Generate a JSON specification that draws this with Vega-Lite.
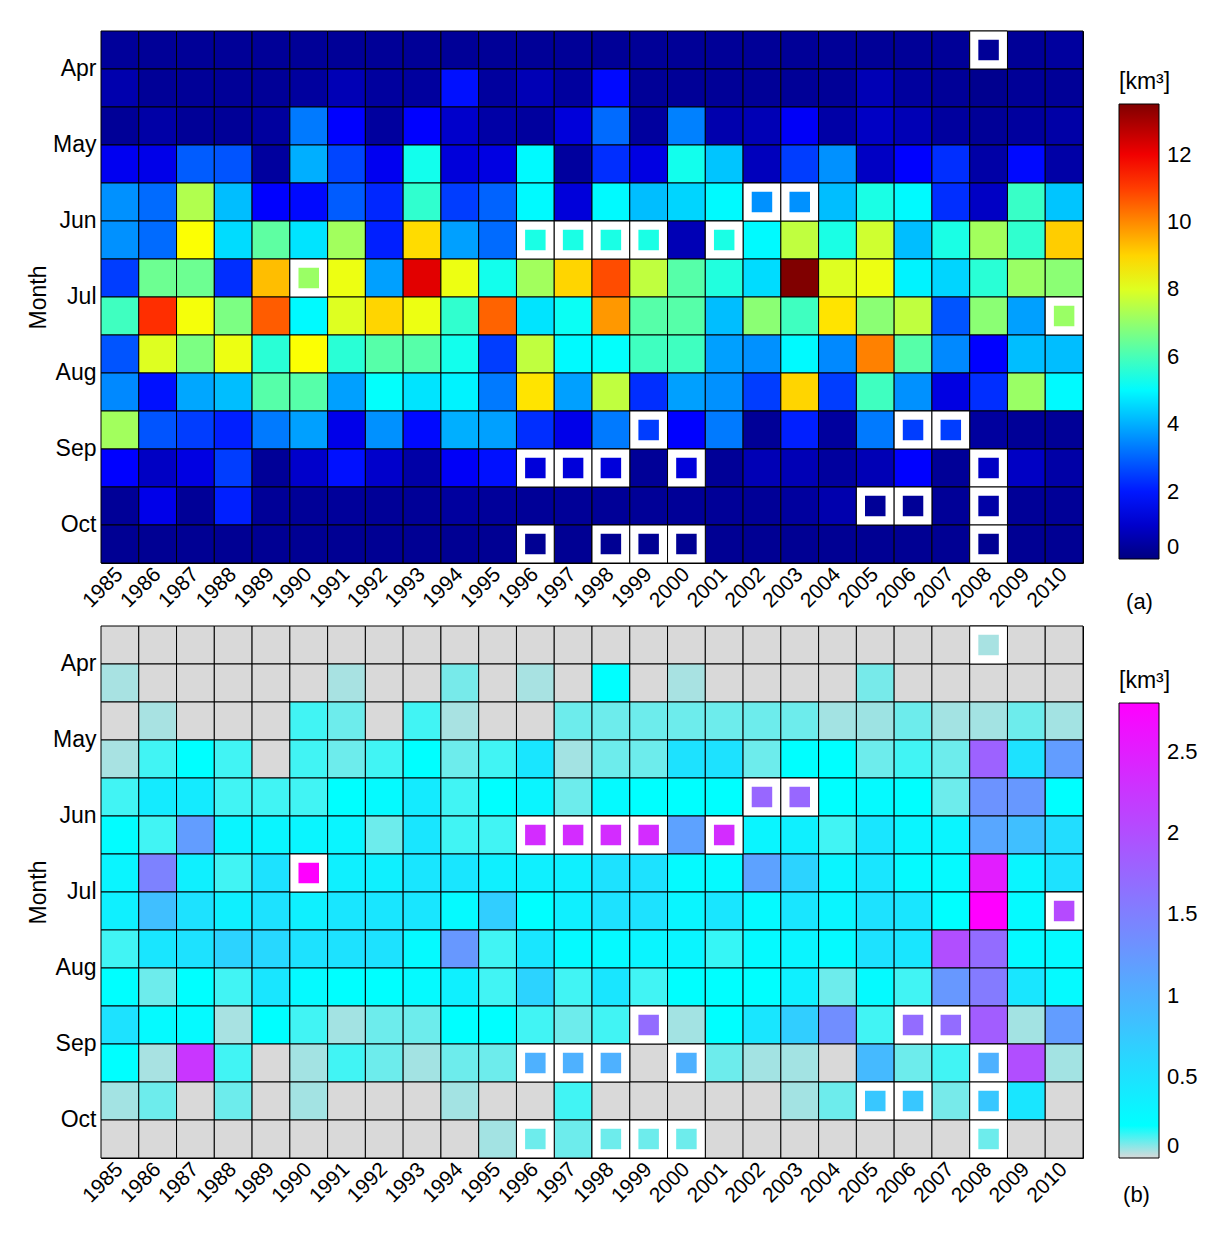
{
"$schema":"https://vega.github.io/schema/vega-lite/v6.json",
"padding":{"left":27,"top":30,"right":0,"bottom":0},
"background":"white",
"config":{
 "font":"Liberation Sans",
 "view":{"stroke":"black"},
 "axis":{"labelFont":"Liberation Sans","labelFontSize":23,"labelColor":"black","titleFont":"Liberation Sans","titleFontSize":23,"titleFontWeight":"normal","titleColor":"black","domain":false,"ticks":false,"grid":false},
 "legend":{"labelFont":"Liberation Sans","labelFontSize":22,"labelColor":"black","titleFont":"Liberation Sans","titleFontSize":23,"titleFontWeight":"normal","titleColor":"black","gradientStrokeColor":"black","gradientStrokeWidth":1}
},
"spacing":12,
"resolve":{"scale":{"color":"independent"}},
"datasets":{
"a":[
{"yr":1985,"r":"Apr","v":0.35},{"yr":1986,"r":"Apr","v":0.3},{"yr":1987,"r":"Apr","v":0.3},{"yr":1988,"r":"Apr","v":0.3},{"yr":1989,"r":"Apr","v":0.3},{"yr":1990,"r":"Apr","v":0.3},{"yr":1991,"r":"Apr","v":0.3},{"yr":1992,"r":"Apr","v":0.3},{"yr":1993,"r":"Apr","v":0.3},{"yr":1994,"r":"Apr","v":0.3},{"yr":1995,"r":"Apr","v":0.3},{"yr":1996,"r":"Apr","v":0.3},{"yr":1997,"r":"Apr","v":0.3},{"yr":1998,"r":"Apr","v":0.3},{"yr":1999,"r":"Apr","v":0.3},{"yr":2000,"r":"Apr","v":0.3},{"yr":2001,"r":"Apr","v":0.3},{"yr":2002,"r":"Apr","v":0.3},{"yr":2003,"r":"Apr","v":0.3},{"yr":2004,"r":"Apr","v":0.3},{"yr":2005,"r":"Apr","v":0.3},{"yr":2006,"r":"Apr","v":0.3},{"yr":2007,"r":"Apr","v":0.3},{"yr":2008,"r":"Apr","v":0.3,"m":1},{"yr":2009,"r":"Apr","v":0.3},{"yr":2010,"r":"Apr","v":0.4},
{"yr":1985,"r":"Apr-2","v":0.6},{"yr":1986,"r":"Apr-2","v":0.3},{"yr":1987,"r":"Apr-2","v":0.3},{"yr":1988,"r":"Apr-2","v":0.3},{"yr":1989,"r":"Apr-2","v":0.3},{"yr":1990,"r":"Apr-2","v":0.4},{"yr":1991,"r":"Apr-2","v":0.7},{"yr":1992,"r":"Apr-2","v":0.4},{"yr":1993,"r":"Apr-2","v":0.4},{"yr":1994,"r":"Apr-2","v":1.9},{"yr":1995,"r":"Apr-2","v":0.4},{"yr":1996,"r":"Apr-2","v":0.7},{"yr":1997,"r":"Apr-2","v":0.4},{"yr":1998,"r":"Apr-2","v":1.8},{"yr":1999,"r":"Apr-2","v":0.3},{"yr":2000,"r":"Apr-2","v":0.3},{"yr":2001,"r":"Apr-2","v":0.3},{"yr":2002,"r":"Apr-2","v":0.3},{"yr":2003,"r":"Apr-2","v":0.3},{"yr":2004,"r":"Apr-2","v":0.3},{"yr":2005,"r":"Apr-2","v":0.7},{"yr":2006,"r":"Apr-2","v":0.4},{"yr":2007,"r":"Apr-2","v":0.3},{"yr":2008,"r":"Apr-2","v":0.2},{"yr":2009,"r":"Apr-2","v":0.3},{"yr":2010,"r":"Apr-2","v":0.3},
{"yr":1985,"r":"May","v":0.3},{"yr":1986,"r":"May","v":0.5},{"yr":1987,"r":"May","v":0.3},{"yr":1988,"r":"May","v":0.3},{"yr":1989,"r":"May","v":0.4},{"yr":1990,"r":"May","v":3.3},{"yr":1991,"r":"May","v":1.7},{"yr":1992,"r":"May","v":0.4},{"yr":1993,"r":"May","v":1.7},{"yr":1994,"r":"May","v":1.0},{"yr":1995,"r":"May","v":0.5},{"yr":1996,"r":"May","v":0.4},{"yr":1997,"r":"May","v":1.2},{"yr":1998,"r":"May","v":3.1},{"yr":1999,"r":"May","v":0.4},{"yr":2000,"r":"May","v":3.4},{"yr":2001,"r":"May","v":0.6},{"yr":2002,"r":"May","v":0.7},{"yr":2003,"r":"May","v":1.6},{"yr":2004,"r":"May","v":0.5},{"yr":2005,"r":"May","v":0.9},{"yr":2006,"r":"May","v":0.7},{"yr":2007,"r":"May","v":0.4},{"yr":2008,"r":"May","v":0.3},{"yr":2009,"r":"May","v":0.4},{"yr":2010,"r":"May","v":0.5},
{"yr":1985,"r":"May-2","v":1.5},{"yr":1986,"r":"May-2","v":1.4},{"yr":1987,"r":"May-2","v":2.9},{"yr":1988,"r":"May-2","v":2.8},{"yr":1989,"r":"May-2","v":0.4},{"yr":1990,"r":"May-2","v":4.0},{"yr":1991,"r":"May-2","v":2.6},{"yr":1992,"r":"May-2","v":1.5},{"yr":1993,"r":"May-2","v":5.3},{"yr":1994,"r":"May-2","v":1.2},{"yr":1995,"r":"May-2","v":1.3},{"yr":1996,"r":"May-2","v":5.0},{"yr":1997,"r":"May-2","v":0.4},{"yr":1998,"r":"May-2","v":2.3},{"yr":1999,"r":"May-2","v":1.3},{"yr":2000,"r":"May-2","v":5.3},{"yr":2001,"r":"May-2","v":4.3},{"yr":2002,"r":"May-2","v":0.8},{"yr":2003,"r":"May-2","v":2.5},{"yr":2004,"r":"May-2","v":3.6},{"yr":2005,"r":"May-2","v":0.9},{"yr":2006,"r":"May-2","v":1.7},{"yr":2007,"r":"May-2","v":2.3},{"yr":2008,"r":"May-2","v":0.5},{"yr":2009,"r":"May-2","v":1.8},{"yr":2010,"r":"May-2","v":0.5},
{"yr":1985,"r":"Jun","v":3.6},{"yr":1986,"r":"Jun","v":3.1},{"yr":1987,"r":"Jun","v":7.4},{"yr":1988,"r":"Jun","v":4.2},{"yr":1989,"r":"Jun","v":1.7},{"yr":1990,"r":"Jun","v":1.8},{"yr":1991,"r":"Jun","v":2.9},{"yr":1992,"r":"Jun","v":2.2},{"yr":1993,"r":"Jun","v":5.7},{"yr":1994,"r":"Jun","v":2.5},{"yr":1995,"r":"Jun","v":3.0},{"yr":1996,"r":"Jun","v":5.0},{"yr":1997,"r":"Jun","v":1.2},{"yr":1998,"r":"Jun","v":5.0},{"yr":1999,"r":"Jun","v":4.2},{"yr":2000,"r":"Jun","v":4.5},{"yr":2001,"r":"Jun","v":5.0},{"yr":2002,"r":"Jun","v":3.6,"m":1},{"yr":2003,"r":"Jun","v":3.6,"m":1},{"yr":2004,"r":"Jun","v":4.2},{"yr":2005,"r":"Jun","v":5.4},{"yr":2006,"r":"Jun","v":5.0},{"yr":2007,"r":"Jun","v":2.3},{"yr":2008,"r":"Jun","v":0.9},{"yr":2009,"r":"Jun","v":5.8},{"yr":2010,"r":"Jun","v":4.3},
{"yr":1985,"r":"Jun-2","v":3.6},{"yr":1986,"r":"Jun-2","v":3.1},{"yr":1987,"r":"Jun-2","v":8.4},{"yr":1988,"r":"Jun-2","v":4.6},{"yr":1989,"r":"Jun-2","v":6.3},{"yr":1990,"r":"Jun-2","v":4.7},{"yr":1991,"r":"Jun-2","v":7.2},{"yr":1992,"r":"Jun-2","v":2.1},{"yr":1993,"r":"Jun-2","v":8.9},{"yr":1994,"r":"Jun-2","v":3.8},{"yr":1995,"r":"Jun-2","v":3.1},{"yr":1996,"r":"Jun-2","v":5.4,"m":1},{"yr":1997,"r":"Jun-2","v":5.4,"m":1},{"yr":1998,"r":"Jun-2","v":5.4,"m":1},{"yr":1999,"r":"Jun-2","v":5.4,"m":1},{"yr":2000,"r":"Jun-2","v":0.7},{"yr":2001,"r":"Jun-2","v":5.4,"m":1},{"yr":2002,"r":"Jun-2","v":5.0},{"yr":2003,"r":"Jun-2","v":7.6},{"yr":2004,"r":"Jun-2","v":5.4},{"yr":2005,"r":"Jun-2","v":7.8},{"yr":2006,"r":"Jun-2","v":4.2},{"yr":2007,"r":"Jun-2","v":5.4},{"yr":2008,"r":"Jun-2","v":7.2},{"yr":2009,"r":"Jun-2","v":5.7},{"yr":2010,"r":"Jun-2","v":9.1},
{"yr":1985,"r":"Jul","v":2.5},{"yr":1986,"r":"Jul","v":6.5},{"yr":1987,"r":"Jul","v":6.5},{"yr":1988,"r":"Jul","v":2.3},{"yr":1989,"r":"Jul","v":9.3},{"yr":1990,"r":"Jul","v":7.1,"m":1},{"yr":1991,"r":"Jul","v":8.2},{"yr":1992,"r":"Jul","v":3.8},{"yr":1993,"r":"Jul","v":12.2},{"yr":1994,"r":"Jul","v":8.2},{"yr":1995,"r":"Jul","v":5.3},{"yr":1996,"r":"Jul","v":7.2},{"yr":1997,"r":"Jul","v":9.0},{"yr":1998,"r":"Jul","v":10.8},{"yr":1999,"r":"Jul","v":7.6},{"yr":2000,"r":"Jul","v":6.2},{"yr":2001,"r":"Jul","v":5.5},{"yr":2002,"r":"Jul","v":4.6},{"yr":2003,"r":"Jul","v":13.5},{"yr":2004,"r":"Jul","v":8.0},{"yr":2005,"r":"Jul","v":8.2},{"yr":2006,"r":"Jul","v":4.9},{"yr":2007,"r":"Jul","v":4.5},{"yr":2008,"r":"Jul","v":5.6},{"yr":2009,"r":"Jul","v":7.1},{"yr":2010,"r":"Jul","v":6.9},
{"yr":1985,"r":"Jul-2","v":5.9},{"yr":1986,"r":"Jul-2","v":11.2},{"yr":1987,"r":"Jul-2","v":8.3},{"yr":1988,"r":"Jul-2","v":6.7},{"yr":1989,"r":"Jul-2","v":10.6},{"yr":1990,"r":"Jul-2","v":5.0},{"yr":1991,"r":"Jul-2","v":8.0},{"yr":1992,"r":"Jul-2","v":9.0},{"yr":1993,"r":"Jul-2","v":8.2},{"yr":1994,"r":"Jul-2","v":5.7},{"yr":1995,"r":"Jul-2","v":10.5},{"yr":1996,"r":"Jul-2","v":4.7},{"yr":1997,"r":"Jul-2","v":5.2},{"yr":1998,"r":"Jul-2","v":9.8},{"yr":1999,"r":"Jul-2","v":6.2},{"yr":2000,"r":"Jul-2","v":6.2},{"yr":2001,"r":"Jul-2","v":4.2},{"yr":2002,"r":"Jul-2","v":6.9},{"yr":2003,"r":"Jul-2","v":5.9},{"yr":2004,"r":"Jul-2","v":8.8},{"yr":2005,"r":"Jul-2","v":6.9},{"yr":2006,"r":"Jul-2","v":7.6},{"yr":2007,"r":"Jul-2","v":2.8},{"yr":2008,"r":"Jul-2","v":6.9},{"yr":2009,"r":"Jul-2","v":3.8},{"yr":2010,"r":"Jul-2","v":7.1,"m":1},
{"yr":1985,"r":"Aug","v":2.8},{"yr":1986,"r":"Aug","v":8.0},{"yr":1987,"r":"Aug","v":6.7},{"yr":1988,"r":"Aug","v":8.2},{"yr":1989,"r":"Aug","v":5.6},{"yr":1990,"r":"Aug","v":8.4},{"yr":1991,"r":"Aug","v":5.6},{"yr":1992,"r":"Aug","v":6.2},{"yr":1993,"r":"Aug","v":6.2},{"yr":1994,"r":"Aug","v":5.3},{"yr":1995,"r":"Aug","v":2.5},{"yr":1996,"r":"Aug","v":7.6},{"yr":1997,"r":"Aug","v":5.0},{"yr":1998,"r":"Aug","v":5.1},{"yr":1999,"r":"Aug","v":5.9},{"yr":2000,"r":"Aug","v":5.9},{"yr":2001,"r":"Aug","v":3.8},{"yr":2002,"r":"Aug","v":3.6},{"yr":2003,"r":"Aug","v":5.0},{"yr":2004,"r":"Aug","v":3.5},{"yr":2005,"r":"Aug","v":10.1},{"yr":2006,"r":"Aug","v":6.2},{"yr":2007,"r":"Aug","v":3.5},{"yr":2008,"r":"Aug","v":1.7},{"yr":2009,"r":"Aug","v":4.2},{"yr":2010,"r":"Aug","v":4.2},
{"yr":1985,"r":"Aug-2","v":3.5},{"yr":1986,"r":"Aug-2","v":1.9},{"yr":1987,"r":"Aug-2","v":3.9},{"yr":1988,"r":"Aug-2","v":4.2},{"yr":1989,"r":"Aug-2","v":6.2},{"yr":1990,"r":"Aug-2","v":6.2},{"yr":1991,"r":"Aug-2","v":3.8},{"yr":1992,"r":"Aug-2","v":5.1},{"yr":1993,"r":"Aug-2","v":4.7},{"yr":1994,"r":"Aug-2","v":4.9},{"yr":1995,"r":"Aug-2","v":3.3},{"yr":1996,"r":"Aug-2","v":8.8},{"yr":1997,"r":"Aug-2","v":3.8},{"yr":1998,"r":"Aug-2","v":7.6},{"yr":1999,"r":"Aug-2","v":2.3},{"yr":2000,"r":"Aug-2","v":3.8},{"yr":2001,"r":"Aug-2","v":3.6},{"yr":2002,"r":"Aug-2","v":2.5},{"yr":2003,"r":"Aug-2","v":9.0},{"yr":2004,"r":"Aug-2","v":2.5},{"yr":2005,"r":"Aug-2","v":5.9},{"yr":2006,"r":"Aug-2","v":3.6},{"yr":2007,"r":"Aug-2","v":1.3},{"yr":2008,"r":"Aug-2","v":2.3},{"yr":2009,"r":"Aug-2","v":7.1},{"yr":2010,"r":"Aug-2","v":5.0},
{"yr":1985,"r":"Sep","v":7.2},{"yr":1986,"r":"Sep","v":2.8},{"yr":1987,"r":"Sep","v":2.5},{"yr":1988,"r":"Sep","v":2.1},{"yr":1989,"r":"Sep","v":3.3},{"yr":1990,"r":"Sep","v":3.8},{"yr":1991,"r":"Sep","v":1.4},{"yr":1992,"r":"Sep","v":3.6},{"yr":1993,"r":"Sep","v":1.8},{"yr":1994,"r":"Sep","v":4.0},{"yr":1995,"r":"Sep","v":3.8},{"yr":1996,"r":"Sep","v":2.3},{"yr":1997,"r":"Sep","v":1.4},{"yr":1998,"r":"Sep","v":3.3},{"yr":1999,"r":"Sep","v":2.5,"m":1},{"yr":2000,"r":"Sep","v":1.7},{"yr":2001,"r":"Sep","v":3.3},{"yr":2002,"r":"Sep","v":0.3},{"yr":2003,"r":"Sep","v":2.1},{"yr":2004,"r":"Sep","v":0.4},{"yr":2005,"r":"Sep","v":3.3},{"yr":2006,"r":"Sep","v":2.5,"m":1},{"yr":2007,"r":"Sep","v":2.5,"m":1},{"yr":2008,"r":"Sep","v":0.4},{"yr":2009,"r":"Sep","v":0.3},{"yr":2010,"r":"Sep","v":0.3},
{"yr":1985,"r":"Sep-2","v":1.7},{"yr":1986,"r":"Sep-2","v":0.9},{"yr":1987,"r":"Sep-2","v":1.3},{"yr":1988,"r":"Sep-2","v":2.5},{"yr":1989,"r":"Sep-2","v":0.3},{"yr":1990,"r":"Sep-2","v":1.0},{"yr":1991,"r":"Sep-2","v":1.9},{"yr":1992,"r":"Sep-2","v":1.0},{"yr":1993,"r":"Sep-2","v":0.5},{"yr":1994,"r":"Sep-2","v":1.6},{"yr":1995,"r":"Sep-2","v":1.9},{"yr":1996,"r":"Sep-2","v":1.2,"m":1},{"yr":1997,"r":"Sep-2","v":1.2,"m":1},{"yr":1998,"r":"Sep-2","v":1.2,"m":1},{"yr":1999,"r":"Sep-2","v":0.3},{"yr":2000,"r":"Sep-2","v":1.2,"m":1},{"yr":2001,"r":"Sep-2","v":0.3},{"yr":2002,"r":"Sep-2","v":0.7},{"yr":2003,"r":"Sep-2","v":0.7},{"yr":2004,"r":"Sep-2","v":0.4},{"yr":2005,"r":"Sep-2","v":0.7},{"yr":2006,"r":"Sep-2","v":1.7},{"yr":2007,"r":"Sep-2","v":0.3},{"yr":2008,"r":"Sep-2","v":0.9,"m":1},{"yr":2009,"r":"Sep-2","v":0.9},{"yr":2010,"r":"Sep-2","v":0.5},
{"yr":1985,"r":"Oct","v":0.3},{"yr":1986,"r":"Oct","v":1.4},{"yr":1987,"r":"Oct","v":0.3},{"yr":1988,"r":"Oct","v":2.1},{"yr":1989,"r":"Oct","v":0.3},{"yr":1990,"r":"Oct","v":0.3},{"yr":1991,"r":"Oct","v":0.35},{"yr":1992,"r":"Oct","v":0.3},{"yr":1993,"r":"Oct","v":0.3},{"yr":1994,"r":"Oct","v":0.4},{"yr":1995,"r":"Oct","v":0.35},{"yr":1996,"r":"Oct","v":0.3},{"yr":1997,"r":"Oct","v":0.3},{"yr":1998,"r":"Oct","v":0.3},{"yr":1999,"r":"Oct","v":0.3},{"yr":2000,"r":"Oct","v":0.3},{"yr":2001,"r":"Oct","v":0.3},{"yr":2002,"r":"Oct","v":0.3},{"yr":2003,"r":"Oct","v":0.4},{"yr":2004,"r":"Oct","v":0.6},{"yr":2005,"r":"Oct","v":0.3,"m":1},{"yr":2006,"r":"Oct","v":0.3,"m":1},{"yr":2007,"r":"Oct","v":0.3},{"yr":2008,"r":"Oct","v":0.5,"m":1},{"yr":2009,"r":"Oct","v":0.3},{"yr":2010,"r":"Oct","v":0.3},
{"yr":1985,"r":"Oct-2","v":0.25},{"yr":1986,"r":"Oct-2","v":0.25},{"yr":1987,"r":"Oct-2","v":0.25},{"yr":1988,"r":"Oct-2","v":0.25},{"yr":1989,"r":"Oct-2","v":0.25},{"yr":1990,"r":"Oct-2","v":0.25},{"yr":1991,"r":"Oct-2","v":0.25},{"yr":1992,"r":"Oct-2","v":0.25},{"yr":1993,"r":"Oct-2","v":0.25},{"yr":1994,"r":"Oct-2","v":0.25},{"yr":1995,"r":"Oct-2","v":0.25},{"yr":1996,"r":"Oct-2","v":0.25,"m":1},{"yr":1997,"r":"Oct-2","v":0.25},{"yr":1998,"r":"Oct-2","v":0.25,"m":1},{"yr":1999,"r":"Oct-2","v":0.25,"m":1},{"yr":2000,"r":"Oct-2","v":0.25,"m":1},{"yr":2001,"r":"Oct-2","v":0.25},{"yr":2002,"r":"Oct-2","v":0.25},{"yr":2003,"r":"Oct-2","v":0.25},{"yr":2004,"r":"Oct-2","v":0.25},{"yr":2005,"r":"Oct-2","v":0.25},{"yr":2006,"r":"Oct-2","v":0.25},{"yr":2007,"r":"Oct-2","v":0.25},{"yr":2008,"r":"Oct-2","v":0.25,"m":1},{"yr":2009,"r":"Oct-2","v":0.25},{"yr":2010,"r":"Oct-2","v":0.25}
],
"b":[
{"yr":1985,"r":"Apr","v":0},{"yr":1986,"r":"Apr","v":0},{"yr":1987,"r":"Apr","v":0},{"yr":1988,"r":"Apr","v":0},{"yr":1989,"r":"Apr","v":0},{"yr":1990,"r":"Apr","v":0},{"yr":1991,"r":"Apr","v":0},{"yr":1992,"r":"Apr","v":0},{"yr":1993,"r":"Apr","v":0},{"yr":1994,"r":"Apr","v":0},{"yr":1995,"r":"Apr","v":0},{"yr":1996,"r":"Apr","v":0},{"yr":1997,"r":"Apr","v":0},{"yr":1998,"r":"Apr","v":0},{"yr":1999,"r":"Apr","v":0},{"yr":2000,"r":"Apr","v":0},{"yr":2001,"r":"Apr","v":0},{"yr":2002,"r":"Apr","v":0},{"yr":2003,"r":"Apr","v":0},{"yr":2004,"r":"Apr","v":0},{"yr":2005,"r":"Apr","v":0},{"yr":2006,"r":"Apr","v":0},{"yr":2007,"r":"Apr","v":0},{"yr":2008,"r":"Apr","v":0.045,"m":1},{"yr":2009,"r":"Apr","v":0},{"yr":2010,"r":"Apr","v":0},
{"yr":1985,"r":"Apr-2","v":0.045},{"yr":1986,"r":"Apr-2","v":0},{"yr":1987,"r":"Apr-2","v":0},{"yr":1988,"r":"Apr-2","v":0},{"yr":1989,"r":"Apr-2","v":0},{"yr":1990,"r":"Apr-2","v":0},{"yr":1991,"r":"Apr-2","v":0.045},{"yr":1992,"r":"Apr-2","v":0},{"yr":1993,"r":"Apr-2","v":0},{"yr":1994,"r":"Apr-2","v":0.09},{"yr":1995,"r":"Apr-2","v":0},{"yr":1996,"r":"Apr-2","v":0.045},{"yr":1997,"r":"Apr-2","v":0},{"yr":1998,"r":"Apr-2","v":0.2},{"yr":1999,"r":"Apr-2","v":0},{"yr":2000,"r":"Apr-2","v":0.045},{"yr":2001,"r":"Apr-2","v":0},{"yr":2002,"r":"Apr-2","v":0},{"yr":2003,"r":"Apr-2","v":0},{"yr":2004,"r":"Apr-2","v":0},{"yr":2005,"r":"Apr-2","v":0.09},{"yr":2006,"r":"Apr-2","v":0},{"yr":2007,"r":"Apr-2","v":0},{"yr":2008,"r":"Apr-2","v":0},{"yr":2009,"r":"Apr-2","v":0},{"yr":2010,"r":"Apr-2","v":0},
{"yr":1985,"r":"May","v":0},{"yr":1986,"r":"May","v":0.045},{"yr":1987,"r":"May","v":0},{"yr":1988,"r":"May","v":0},{"yr":1989,"r":"May","v":0},{"yr":1990,"r":"May","v":0.14},{"yr":1991,"r":"May","v":0.1},{"yr":1992,"r":"May","v":0},{"yr":1993,"r":"May","v":0.14},{"yr":1994,"r":"May","v":0.045},{"yr":1995,"r":"May","v":0},{"yr":1996,"r":"May","v":0},{"yr":1997,"r":"May","v":0.1},{"yr":1998,"r":"May","v":0.1},{"yr":1999,"r":"May","v":0.1},{"yr":2000,"r":"May","v":0.1},{"yr":2001,"r":"May","v":0.1},{"yr":2002,"r":"May","v":0.1},{"yr":2003,"r":"May","v":0.1},{"yr":2004,"r":"May","v":0.05},{"yr":2005,"r":"May","v":0.055},{"yr":2006,"r":"May","v":0.1},{"yr":2007,"r":"May","v":0.05},{"yr":2008,"r":"May","v":0.05},{"yr":2009,"r":"May","v":0.1},{"yr":2010,"r":"May","v":0.05},
{"yr":1985,"r":"May-2","v":0.045},{"yr":1986,"r":"May-2","v":0.14},{"yr":1987,"r":"May-2","v":0.2},{"yr":1988,"r":"May-2","v":0.14},{"yr":1989,"r":"May-2","v":0},{"yr":1990,"r":"May-2","v":0.14},{"yr":1991,"r":"May-2","v":0.1},{"yr":1992,"r":"May-2","v":0.14},{"yr":1993,"r":"May-2","v":0.2},{"yr":1994,"r":"May-2","v":0.1},{"yr":1995,"r":"May-2","v":0.14},{"yr":1996,"r":"May-2","v":0.45},{"yr":1997,"r":"May-2","v":0.05},{"yr":1998,"r":"May-2","v":0.1},{"yr":1999,"r":"May-2","v":0.1},{"yr":2000,"r":"May-2","v":0.5},{"yr":2001,"r":"May-2","v":0.5},{"yr":2002,"r":"May-2","v":0.1},{"yr":2003,"r":"May-2","v":0.2},{"yr":2004,"r":"May-2","v":0.2},{"yr":2005,"r":"May-2","v":0.1},{"yr":2006,"r":"May-2","v":0.14},{"yr":2007,"r":"May-2","v":0.1},{"yr":2008,"r":"May-2","v":1.8},{"yr":2009,"r":"May-2","v":0.5},{"yr":2010,"r":"May-2","v":1.2},
{"yr":1985,"r":"Jun","v":0.14},{"yr":1986,"r":"Jun","v":0.4},{"yr":1987,"r":"Jun","v":0.4},{"yr":1988,"r":"Jun","v":0.14},{"yr":1989,"r":"Jun","v":0.14},{"yr":1990,"r":"Jun","v":0.14},{"yr":1991,"r":"Jun","v":0.2},{"yr":1992,"r":"Jun","v":0.25},{"yr":1993,"r":"Jun","v":0.4},{"yr":1994,"r":"Jun","v":0.14},{"yr":1995,"r":"Jun","v":0.2},{"yr":1996,"r":"Jun","v":0.3},{"yr":1997,"r":"Jun","v":0.1},{"yr":1998,"r":"Jun","v":0.25},{"yr":1999,"r":"Jun","v":0.2},{"yr":2000,"r":"Jun","v":0.2},{"yr":2001,"r":"Jun","v":0.2},{"yr":2002,"r":"Jun","v":1.75,"m":1},{"yr":2003,"r":"Jun","v":1.75,"m":1},{"yr":2004,"r":"Jun","v":0.2},{"yr":2005,"r":"Jun","v":0.25},{"yr":2006,"r":"Jun","v":0.2},{"yr":2007,"r":"Jun","v":0.1},{"yr":2008,"r":"Jun","v":1.3},{"yr":2009,"r":"Jun","v":1.25},{"yr":2010,"r":"Jun","v":0.2},
{"yr":1985,"r":"Jun-2","v":0.22},{"yr":1986,"r":"Jun-2","v":0.14},{"yr":1987,"r":"Jun-2","v":1.2},{"yr":1988,"r":"Jun-2","v":0.3},{"yr":1989,"r":"Jun-2","v":0.3},{"yr":1990,"r":"Jun-2","v":0.3},{"yr":1991,"r":"Jun-2","v":0.3},{"yr":1992,"r":"Jun-2","v":0.1},{"yr":1993,"r":"Jun-2","v":0.45},{"yr":1994,"r":"Jun-2","v":0.14},{"yr":1995,"r":"Jun-2","v":0.14},{"yr":1996,"r":"Jun-2","v":2.35,"m":1},{"yr":1997,"r":"Jun-2","v":2.35,"m":1},{"yr":1998,"r":"Jun-2","v":2.35,"m":1},{"yr":1999,"r":"Jun-2","v":2.35,"m":1},{"yr":2000,"r":"Jun-2","v":1.15},{"yr":2001,"r":"Jun-2","v":2.35,"m":1},{"yr":2002,"r":"Jun-2","v":0.3},{"yr":2003,"r":"Jun-2","v":0.35},{"yr":2004,"r":"Jun-2","v":0.14},{"yr":2005,"r":"Jun-2","v":0.45},{"yr":2006,"r":"Jun-2","v":0.3},{"yr":2007,"r":"Jun-2","v":0.3},{"yr":2008,"r":"Jun-2","v":1.1},{"yr":2009,"r":"Jun-2","v":0.85},{"yr":2010,"r":"Jun-2","v":0.55},
{"yr":1985,"r":"Jul","v":0.3},{"yr":1986,"r":"Jul","v":1.47},{"yr":1987,"r":"Jul","v":0.35},{"yr":1988,"r":"Jul","v":0.14},{"yr":1989,"r":"Jul","v":0.5},{"yr":1990,"r":"Jul","v":2.8,"m":1},{"yr":1991,"r":"Jul","v":0.35},{"yr":1992,"r":"Jul","v":0.35},{"yr":1993,"r":"Jul","v":0.45},{"yr":1994,"r":"Jul","v":0.45},{"yr":1995,"r":"Jul","v":0.35},{"yr":1996,"r":"Jul","v":0.35},{"yr":1997,"r":"Jul","v":0.35},{"yr":1998,"r":"Jul","v":0.5},{"yr":1999,"r":"Jul","v":0.5},{"yr":2000,"r":"Jul","v":0.25},{"yr":2001,"r":"Jul","v":0.25},{"yr":2002,"r":"Jul","v":1.15},{"yr":2003,"r":"Jul","v":0.65},{"yr":2004,"r":"Jul","v":0.3},{"yr":2005,"r":"Jul","v":0.45},{"yr":2006,"r":"Jul","v":0.25},{"yr":2007,"r":"Jul","v":0.25},{"yr":2008,"r":"Jul","v":2.5},{"yr":2009,"r":"Jul","v":0.3},{"yr":2010,"r":"Jul","v":0.5},
{"yr":1985,"r":"Jul-2","v":0.35},{"yr":1986,"r":"Jul-2","v":0.85},{"yr":1987,"r":"Jul-2","v":0.5},{"yr":1988,"r":"Jul-2","v":0.35},{"yr":1989,"r":"Jul-2","v":0.5},{"yr":1990,"r":"Jul-2","v":0.35},{"yr":1991,"r":"Jul-2","v":0.45},{"yr":1992,"r":"Jul-2","v":0.45},{"yr":1993,"r":"Jul-2","v":0.45},{"yr":1994,"r":"Jul-2","v":0.25},{"yr":1995,"r":"Jul-2","v":0.7},{"yr":1996,"r":"Jul-2","v":0.2},{"yr":1997,"r":"Jul-2","v":0.35},{"yr":1998,"r":"Jul-2","v":0.5},{"yr":1999,"r":"Jul-2","v":0.5},{"yr":2000,"r":"Jul-2","v":0.3},{"yr":2001,"r":"Jul-2","v":0.45},{"yr":2002,"r":"Jul-2","v":0.25},{"yr":2003,"r":"Jul-2","v":0.45},{"yr":2004,"r":"Jul-2","v":0.3},{"yr":2005,"r":"Jul-2","v":0.5},{"yr":2006,"r":"Jul-2","v":0.45},{"yr":2007,"r":"Jul-2","v":0.2},{"yr":2008,"r":"Jul-2","v":2.8},{"yr":2009,"r":"Jul-2","v":0.25},{"yr":2010,"r":"Jul-2","v":2.05,"m":1},
{"yr":1985,"r":"Aug","v":0.14},{"yr":1986,"r":"Aug","v":0.45},{"yr":1987,"r":"Aug","v":0.5},{"yr":1988,"r":"Aug","v":0.65},{"yr":1989,"r":"Aug","v":0.6},{"yr":1990,"r":"Aug","v":0.5},{"yr":1991,"r":"Aug","v":0.5},{"yr":1992,"r":"Aug","v":0.5},{"yr":1993,"r":"Aug","v":0.25},{"yr":1994,"r":"Aug","v":1.25},{"yr":1995,"r":"Aug","v":0.14},{"yr":1996,"r":"Aug","v":0.45},{"yr":1997,"r":"Aug","v":0.25},{"yr":1998,"r":"Aug","v":0.25},{"yr":1999,"r":"Aug","v":0.3},{"yr":2000,"r":"Aug","v":0.3},{"yr":2001,"r":"Aug","v":0.15},{"yr":2002,"r":"Aug","v":0.25},{"yr":2003,"r":"Aug","v":0.3},{"yr":2004,"r":"Aug","v":0.25},{"yr":2005,"r":"Aug","v":0.5},{"yr":2006,"r":"Aug","v":0.45},{"yr":2007,"r":"Aug","v":2.0},{"yr":2008,"r":"Aug","v":1.7},{"yr":2009,"r":"Aug","v":0.25},{"yr":2010,"r":"Aug","v":0.25},
{"yr":1985,"r":"Aug-2","v":0.2},{"yr":1986,"r":"Aug-2","v":0.1},{"yr":1987,"r":"Aug-2","v":0.2},{"yr":1988,"r":"Aug-2","v":0.14},{"yr":1989,"r":"Aug-2","v":0.45},{"yr":1990,"r":"Aug-2","v":0.25},{"yr":1991,"r":"Aug-2","v":0.2},{"yr":1992,"r":"Aug-2","v":0.2},{"yr":1993,"r":"Aug-2","v":0.25},{"yr":1994,"r":"Aug-2","v":0.35},{"yr":1995,"r":"Aug-2","v":0.14},{"yr":1996,"r":"Aug-2","v":0.65},{"yr":1997,"r":"Aug-2","v":0.14},{"yr":1998,"r":"Aug-2","v":0.45},{"yr":1999,"r":"Aug-2","v":0.14},{"yr":2000,"r":"Aug-2","v":0.2},{"yr":2001,"r":"Aug-2","v":0.2},{"yr":2002,"r":"Aug-2","v":0.2},{"yr":2003,"r":"Aug-2","v":0.35},{"yr":2004,"r":"Aug-2","v":0.1},{"yr":2005,"r":"Aug-2","v":0.25},{"yr":2006,"r":"Aug-2","v":0.14},{"yr":2007,"r":"Aug-2","v":1.25},{"yr":2008,"r":"Aug-2","v":1.55},{"yr":2009,"r":"Aug-2","v":0.45},{"yr":2010,"r":"Aug-2","v":0.25},
{"yr":1985,"r":"Sep","v":0.5},{"yr":1986,"r":"Sep","v":0.25},{"yr":1987,"r":"Sep","v":0.25},{"yr":1988,"r":"Sep","v":0.045},{"yr":1989,"r":"Sep","v":0.2},{"yr":1990,"r":"Sep","v":0.14},{"yr":1991,"r":"Sep","v":0.05},{"yr":1992,"r":"Sep","v":0.1},{"yr":1993,"r":"Sep","v":0.1},{"yr":1994,"r":"Sep","v":0.2},{"yr":1995,"r":"Sep","v":0.2},{"yr":1996,"r":"Sep","v":0.14},{"yr":1997,"r":"Sep","v":0.1},{"yr":1998,"r":"Sep","v":0.14},{"yr":1999,"r":"Sep","v":1.7,"m":1},{"yr":2000,"r":"Sep","v":0.05},{"yr":2001,"r":"Sep","v":0.2},{"yr":2002,"r":"Sep","v":0.45},{"yr":2003,"r":"Sep","v":0.7},{"yr":2004,"r":"Sep","v":1.35},{"yr":2005,"r":"Sep","v":0.14},{"yr":2006,"r":"Sep","v":1.7,"m":1},{"yr":2007,"r":"Sep","v":1.7,"m":1},{"yr":2008,"r":"Sep","v":1.85},{"yr":2009,"r":"Sep","v":0.05},{"yr":2010,"r":"Sep","v":1.2},
{"yr":1985,"r":"Sep-2","v":0.2},{"yr":1986,"r":"Sep-2","v":0.045},{"yr":1987,"r":"Sep-2","v":2.25},{"yr":1988,"r":"Sep-2","v":0.14},{"yr":1989,"r":"Sep-2","v":0},{"yr":1990,"r":"Sep-2","v":0.05},{"yr":1991,"r":"Sep-2","v":0.14},{"yr":1992,"r":"Sep-2","v":0.1},{"yr":1993,"r":"Sep-2","v":0.05},{"yr":1994,"r":"Sep-2","v":0.1},{"yr":1995,"r":"Sep-2","v":0.1},{"yr":1996,"r":"Sep-2","v":1.0,"m":1},{"yr":1997,"r":"Sep-2","v":1.0,"m":1},{"yr":1998,"r":"Sep-2","v":1.0,"m":1},{"yr":1999,"r":"Sep-2","v":0},{"yr":2000,"r":"Sep-2","v":1.0,"m":1},{"yr":2001,"r":"Sep-2","v":0.1},{"yr":2002,"r":"Sep-2","v":0.05},{"yr":2003,"r":"Sep-2","v":0.05},{"yr":2004,"r":"Sep-2","v":0},{"yr":2005,"r":"Sep-2","v":0.9},{"yr":2006,"r":"Sep-2","v":0.1},{"yr":2007,"r":"Sep-2","v":0.14},{"yr":2008,"r":"Sep-2","v":1.0,"m":1},{"yr":2009,"r":"Sep-2","v":2.0},{"yr":2010,"r":"Sep-2","v":0.05},
{"yr":1985,"r":"Oct","v":0.05},{"yr":1986,"r":"Oct","v":0.1},{"yr":1987,"r":"Oct","v":0},{"yr":1988,"r":"Oct","v":0.1},{"yr":1989,"r":"Oct","v":0},{"yr":1990,"r":"Oct","v":0.05},{"yr":1991,"r":"Oct","v":0},{"yr":1992,"r":"Oct","v":0},{"yr":1993,"r":"Oct","v":0},{"yr":1994,"r":"Oct","v":0.05},{"yr":1995,"r":"Oct","v":0},{"yr":1996,"r":"Oct","v":0},{"yr":1997,"r":"Oct","v":0.14},{"yr":1998,"r":"Oct","v":0},{"yr":1999,"r":"Oct","v":0},{"yr":2000,"r":"Oct","v":0},{"yr":2001,"r":"Oct","v":0},{"yr":2002,"r":"Oct","v":0},{"yr":2003,"r":"Oct","v":0.05},{"yr":2004,"r":"Oct","v":0.1},{"yr":2005,"r":"Oct","v":0.77,"m":1},{"yr":2006,"r":"Oct","v":0.77,"m":1},{"yr":2007,"r":"Oct","v":0.09},{"yr":2008,"r":"Oct","v":0.77,"m":1},{"yr":2009,"r":"Oct","v":0.45},{"yr":2010,"r":"Oct","v":0},
{"yr":1985,"r":"Oct-2","v":0},{"yr":1986,"r":"Oct-2","v":0},{"yr":1987,"r":"Oct-2","v":0},{"yr":1988,"r":"Oct-2","v":0},{"yr":1989,"r":"Oct-2","v":0},{"yr":1990,"r":"Oct-2","v":0},{"yr":1991,"r":"Oct-2","v":0},{"yr":1992,"r":"Oct-2","v":0},{"yr":1993,"r":"Oct-2","v":0},{"yr":1994,"r":"Oct-2","v":0},{"yr":1995,"r":"Oct-2","v":0.05},{"yr":1996,"r":"Oct-2","v":0.1,"m":1},{"yr":1997,"r":"Oct-2","v":0.1},{"yr":1998,"r":"Oct-2","v":0.1,"m":1},{"yr":1999,"r":"Oct-2","v":0.1,"m":1},{"yr":2000,"r":"Oct-2","v":0.1,"m":1},{"yr":2001,"r":"Oct-2","v":0},{"yr":2002,"r":"Oct-2","v":0},{"yr":2003,"r":"Oct-2","v":0},{"yr":2004,"r":"Oct-2","v":0},{"yr":2005,"r":"Oct-2","v":0},{"yr":2006,"r":"Oct-2","v":0},{"yr":2007,"r":"Oct-2","v":0},{"yr":2008,"r":"Oct-2","v":0.1,"m":1},{"yr":2009,"r":"Oct-2","v":0},{"yr":2010,"r":"Oct-2","v":0}
]
},
"vconcat":[
{
 "width":982,"height":532,
 "data":{"name":"a"},
 "encoding":{
  "x":{"field":"yr","type":"ordinal","scale":{"paddingInner":0,"paddingOuter":0},"axis":{"title":"(a)","titleX":1038,"titleY":38,"titleAngle":0,"titleAlign":"center","titleBaseline":"middle","titleFontSize":22,"labelAngle":-45,"labelAlign":"right","labelBaseline":"middle","labelPadding":8,"labelFontSize":21}},
  "y":{"field":"r","type":"ordinal","title":"Month","scale":{"domain":["Apr","Apr-2","May","May-2","Jun","Jun-2","Jul","Jul-2","Aug","Aug-2","Sep","Sep-2","Oct","Oct-2"],"paddingInner":0,"paddingOuter":0},"axis":{"labelExpr":"indexof(datum.value,'-') < 0 ? datum.value : ''","labelOffset":19,"labelPadding":5,"titlePadding":2}}
 },
 "layer":[
  {"mark":{"type":"rect","stroke":"black","strokeWidth":1},
   "encoding":{"color":{"field":"v","type":"quantitative","scale":{"domain":[0,1.6875,5.0625,8.4375,11.8125,13.5],"range":["#000080","#0000ff","#00ffff","#ffff00","#ff0000","#800000"],"interpolate":"rgb"},
     "legend":{"title":"[km³]","orient":"none","legendX":1018,"legendY":40,"direction":"vertical","gradientLength":455,"gradientThickness":40,"values":[0,2,4,6,8,10,12],"labelOffset":8,"labelBaseline":"middle","titlePadding":10}}}},
  {"transform":[{"filter":"datum.m == 1"}],"mark":{"type":"rect","fill":"white","stroke":"black","strokeWidth":1},"encoding":{}},
  {"transform":[{"filter":"datum.m == 1"}],"mark":{"type":"point","shape":"square","filled":true,"size":420,"opacity":1,"strokeWidth":0},
   "encoding":{"color":{"field":"v","type":"quantitative","legend":null}}}
 ]
},
{
 "width":982,"height":532,
 "data":{"name":"b"},
 "encoding":{
  "x":{"field":"yr","type":"ordinal","scale":{"paddingInner":0,"paddingOuter":0},"axis":{"title":"(b)","titleX":1035,"titleY":36,"titleAngle":0,"titleAlign":"center","titleBaseline":"middle","titleFontSize":22,"labelAngle":-45,"labelAlign":"right","labelBaseline":"middle","labelPadding":8,"labelFontSize":21}},
  "y":{"field":"r","type":"ordinal","title":"Month","scale":{"domain":["Apr","Apr-2","May","May-2","Jun","Jun-2","Jul","Jul-2","Aug","Aug-2","Sep","Sep-2","Oct","Oct-2"],"paddingInner":0,"paddingOuter":0},"axis":{"labelExpr":"indexof(datum.value,'-') < 0 ? datum.value : ''","labelOffset":19,"labelPadding":5,"titlePadding":2}}
 },
 "layer":[
  {"mark":{"type":"rect","stroke":"black","strokeWidth":1},
   "encoding":{"color":{"field":"v","type":"quantitative","scale":{"domain":[0,0.2,2.8],"range":["#d9d9d9","#00ffff","#ff00ff"],"interpolate":"rgb"},
     "legend":{"title":"[km³]","orient":"none","legendX":1018,"legendY":44,"direction":"vertical","gradientLength":455,"gradientThickness":40,"values":[0,0.5,1,1.5,2,2.5],"format":"~g","labelOffset":8,"labelBaseline":"middle","titlePadding":10}}}},
  {"transform":[{"filter":"datum.m == 1"}],"mark":{"type":"rect","fill":"white","stroke":"black","strokeWidth":1},"encoding":{}},
  {"transform":[{"filter":"datum.m == 1"}],"mark":{"type":"point","shape":"square","filled":true,"size":420,"opacity":1,"strokeWidth":0},
   "encoding":{"color":{"field":"v","type":"quantitative","legend":null}}}
 ]
}
]
}
